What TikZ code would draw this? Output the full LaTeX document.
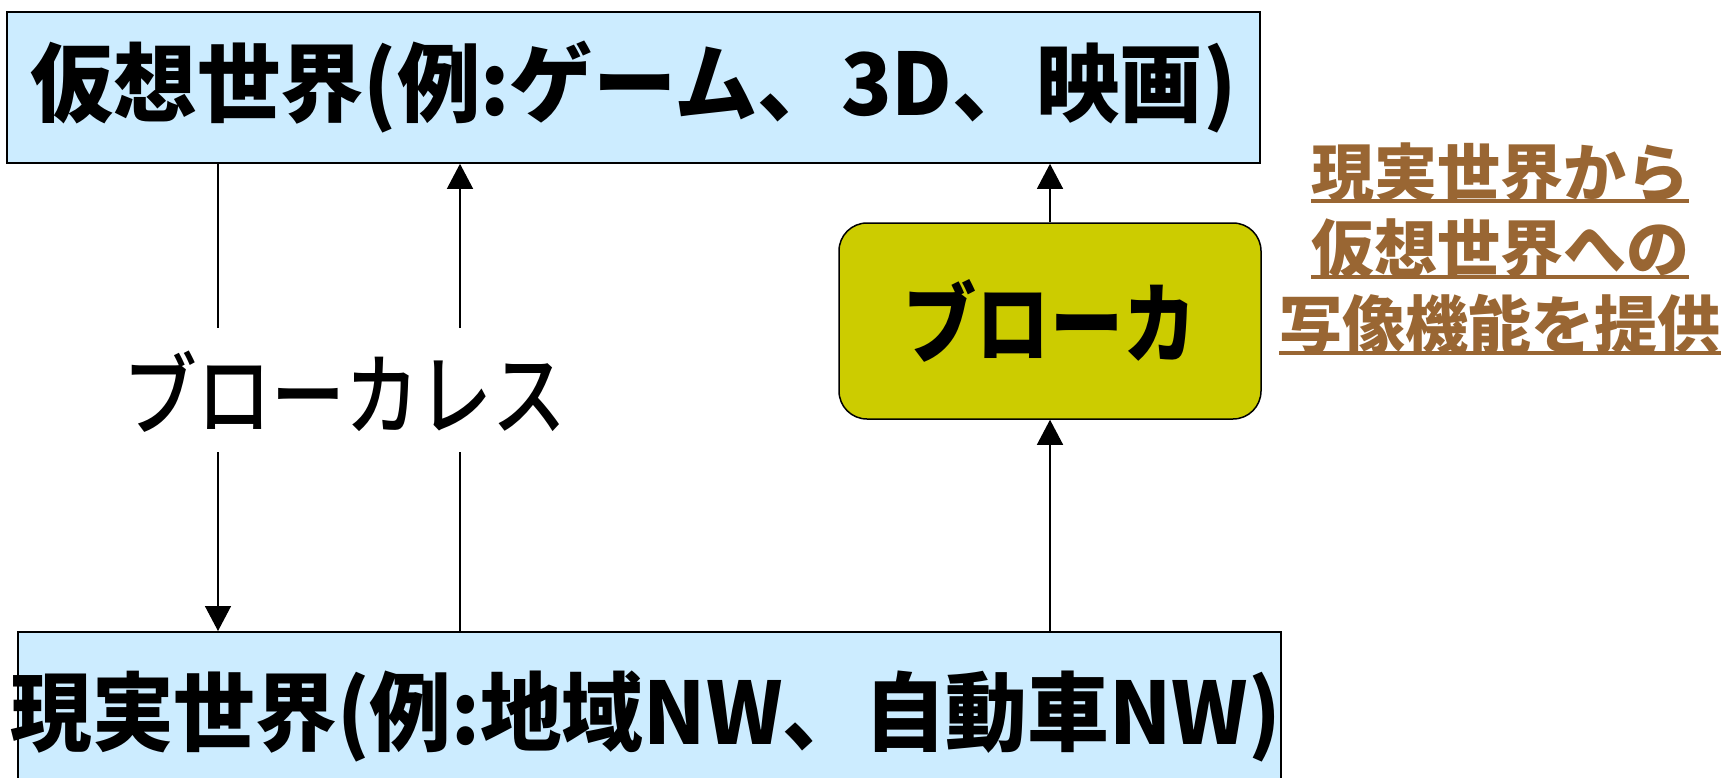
\documentclass[tikz,border=0pt]{standalone}
\usepackage{fontspec}
\newfontfamily\jp{Noto Sans CJK JP}
\newfontfamily\jpm{Noto Sans CJK JP Medium}
\usetikzlibrary{arrows.meta}
\definecolor{boxblue}{HTML}{CCECFF}
\definecolor{olive}{HTML}{CCCC00}
\definecolor{brown}{HTML}{996633}
\tikzset{
  world/.style={draw=black, line width=2pt, fill=boxblue, inner sep=0pt},
  brokerbox/.style={draw=black, line width=1.5pt, fill=olive, rounded corners=28pt, inner sep=0pt,
     minimum width=422pt, minimum height=196pt},
  conn/.style={line width=1.4pt, draw=black},
  arr/.style={conn, -{Triangle[width=26pt,length=25pt]}},
  rt/.style={inner sep=0pt, text=brown, font=\jp\bfseries\fontsize{63}{70}\selectfont, anchor=base},
  ul/.style={draw=brown, line width=3.5pt},
}
\begin{document}
\begin{tikzpicture}[x=1pt,y=-1pt]
\useasboundingbox (0,0) rectangle (1723,777);
% virtual world box
\node[world, minimum width=1253pt, minimum height=151pt] (top) at (633.3,87.3)
  {\jp\bfseries\fontsize{86}{100}\selectfont\raisebox{-9pt}{\scalebox{0.97}[1]{仮想世界(例:ゲーム、3D、映画)}}};
% real world box
\node[world, minimum width=1255pt, minimum height=168pt] (bot) at (649.5,716)
  {\jp\bfseries\fontsize{86}{100}\selectfont\hspace*{-8pt}\scalebox{0.95}[1]{現実世界(例:地域NW、自動車NW)}};
% broker
\node[brokerbox] (broker) at (1050,321)
  {\jp\bfseries\fontsize{88}{100}\selectfont\scalebox{0.83}[1]{ブローカ}};
% brokerless label
\node[inner sep=0pt, font=\jpm\fontsize{90}{100}\selectfont] (bl) at (345,392) {\scalebox{0.82}[1]{ブローカレス}};
% gap coordinates
\coordinate (l1) at (218,328);
\coordinate (l2) at (218,452);
\coordinate (r1) at (460,328);
\coordinate (r2) at (460,452);
\draw[conn] (top.south -| l1) -- (l1);
\draw[arr] (l2) -- (bot.north -| l2);
\draw[conn] (bot.north -| r2) -- (r2);
\draw[arr] (r1) -- (top.south -| r1);
\draw[arr] (broker.north) -- (top.south -| broker.north);
\draw[arr] (bot.north -| broker.south) -- (broker.south);
% right explanatory text
\node[rt] (t1) at (1500,196) {現実世界から};
\node[rt] (t2) at (1500,272) {仮想世界への};
\node[rt] (t3) at (1500,348) {写像機能を提供};
\draw[ul] ([yshift=-5pt]t1.base west) -- ([yshift=-5pt]t1.base east);
\draw[ul] ([yshift=-5pt]t2.base west) -- ([yshift=-5pt]t2.base east);
\draw[ul] ([yshift=-5pt]t3.base west) -- ([yshift=-5pt]t3.base east);
\end{tikzpicture}
\end{document}
